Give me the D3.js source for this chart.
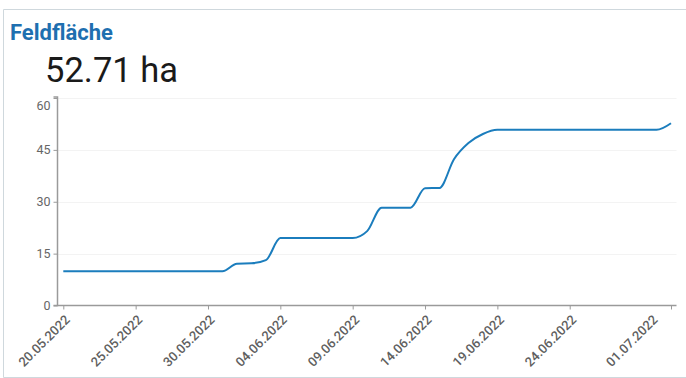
<!DOCTYPE html>
<html>
<head>
<meta charset="utf-8">
<script src="https://cdn.jsdelivr.net/npm/d3@7/dist/d3.min.js"></script>
<style>
  html, body { margin: 0; padding: 0; background: #fff; }
  svg { display: block; }
</style>
</head>
<body>
<svg id="chart" width="686" height="378"></svg>
<script>
// Daily field area (ha)
const dates = [
  "20.05.2022","21.05.2022","22.05.2022","23.05.2022","24.05.2022","25.05.2022",
  "26.05.2022","27.05.2022","28.05.2022","29.05.2022","30.05.2022","31.05.2022",
  "01.06.2022","02.06.2022","03.06.2022","04.06.2022","05.06.2022","06.06.2022",
  "07.06.2022","08.06.2022","09.06.2022","10.06.2022","11.06.2022","12.06.2022",
  "13.06.2022","14.06.2022","15.06.2022","16.06.2022","17.06.2022","18.06.2022",
  "19.06.2022","20.06.2022","21.06.2022","22.06.2022","23.06.2022","24.06.2022",
  "25.06.2022","26.06.2022","27.06.2022","28.06.2022","29.06.2022","30.06.2022",
  "01.07.2022"
];
const areas = [
  9.9, 9.9, 9.9, 9.9, 9.9, 9.9,
  9.9, 9.9, 9.9, 9.9, 9.9, 9.9,
  12.1, 12.2, 13.1, 19.5, 19.5, 19.5,
  19.5, 19.5, 19.5, 21.5, 28.3, 28.3,
  28.3, 33.9, 34.0, 42.3, 47.0, 49.6,
  50.8, 50.8, 50.8, 50.8, 50.8, 50.8,
  50.8, 50.8, 50.8, 50.8, 50.8, 50.8,
  52.71
];
const yTicks = [0, 15, 30, 45, 60];
const xTickLabels = ["20.05.2022","25.05.2022","30.05.2022","04.06.2022","09.06.2022",
                     "14.06.2022","19.06.2022","24.06.2022","01.07.2022"];
const title = "Feldfläche";
const unit = "ha";

const parse = d3.timeParse("%d.%m.%Y");
const fmt = d3.timeFormat("%d.%m.%Y");
const data = dates.map((d, i) => ({ date: parse(d), value: areas[i] }));

const svg = d3.select("#chart");

// card frame
svg.append("path")
  .attr("d", "M686,9.5 H3.5 V377.5 H686")
  .attr("fill", "none")
  .attr("stroke", "#cfd8dd")
  .attr("stroke-width", 1);

svg.append("text")
  .attr("x", 10).attr("y", 40)
  .attr("font-family", "Roboto, sans-serif")
  .attr("font-weight", 700)
  .attr("font-size", 22)
  .attr("fill", "#1e6fb0")
  .text(title);

svg.append("text")
  .attr("x", 45).attr("y", 82)
  .attr("font-family", "Roboto, sans-serif")
  .attr("font-size", 34.5)
  .attr("fill", "#1a1a1a")
  .text(`${areas[areas.length - 1].toFixed(2)} ${unit}`);

const axisX0 = 57.5, axisX1 = 676.5, axisY = 305.5, axisTop = 97;

const x = d3.scaleTime()
  .domain([data[0].date, data[data.length - 1].date])
  .range([63.3, 671]);

const y = d3.scaleLinear()
  .domain([0, 60])
  .range([axisY, 98]);

// faint grid
svg.append("g")
  .selectAll("line")
  .data(yTicks.slice(1))
  .join("line")
  .attr("x1", axisX0).attr("x2", axisX1)
  .attr("y1", d => Math.round(y(d)) + 0.5)
  .attr("y2", d => Math.round(y(d)) + 0.5)
  .attr("stroke", "#f3f3f3");

// y axis
const yAxis = svg.append("g")
  .attr("transform", `translate(${axisX0},0)`)
  .call(d3.axisLeft(y).tickValues(yTicks).tickSize(4).tickSizeOuter(4));
yAxis.select(".domain").attr("stroke", "#9a9a9a").attr("stroke-width", 1.5)
  .attr("d", `M-4,${axisTop}H0V${axisY}H-4`);
yAxis.selectAll(".tick line").attr("stroke", "#9a9a9a");
yAxis.selectAll(".tick text")
  .attr("font-family", "Roboto, sans-serif")
  .attr("font-size", 12.5)
  .attr("fill", "#666")
  .attr("x", -7)
  .attr("dy", d => d === 60 ? "0.95em" : "0.32em");

// x axis
const xTicks = xTickLabels.map(parse);
const xAxis = svg.append("g")
  .attr("transform", `translate(0,${axisY})`)
  .call(d3.axisBottom(x).tickValues(xTicks).tickFormat(fmt).tickSize(4).tickSizeOuter(0));
xAxis.select(".domain").attr("stroke", "#9a9a9a").attr("stroke-width", 1.5)
  .attr("d", `M${axisX0},0H${axisX1}`);
xAxis.selectAll(".tick line").attr("stroke", "#9a9a9a");
xAxis.selectAll(".tick text")
  .attr("font-family", "Roboto, sans-serif")
  .attr("font-size", 13)
  .attr("font-weight", 500)
  .attr("fill", "#5f5f5f")
  .attr("text-anchor", "end")
  .attr("y", 0).attr("dy", 0)
  .attr("transform", (d, i) => {
    const shift = i === xTicks.length - 1 ? -20 : 0;
    return `translate(${7 + shift},15) rotate(-45)`;
  });

// area line
const line = d3.line()
  .x(d => x(d.date))
  .y(d => y(d.value))
  .curve(d3.curveMonotoneX);

svg.append("path")
  .datum(data)
  .attr("d", line)
  .attr("fill", "none")
  .attr("stroke", "#1b7dbd")
  .attr("stroke-width", 2);
</script>
</body>
</html>
